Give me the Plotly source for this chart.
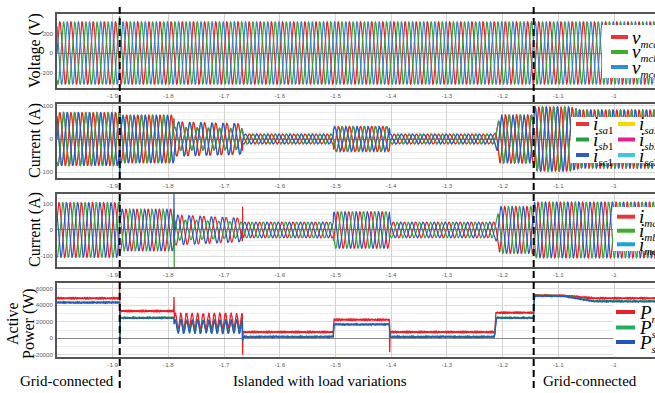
import numpy as np
import plotly.graph_objects as go

# ---------------- data ----------------
T_START, T_END = -2.0, -0.92
FREQ = 50.0
x_tick_vals = [-1.9, -1.8, -1.7, -1.6, -1.5, -1.4, -1.3, -1.2, -1.1, -1.0]
x_tick_text = ["-1.9", "-1.8", "-1.7", "-1.6", "-1.5", "-1.4", "-1.3", "-1.2", "-1.1", "-1"]
event_times = [-1.8874, -1.1442]  # grid disconnection / reconnection

# PCC voltage amplitude envelope (V)
v_knots_t = [-2.0, -0.92]
v_knots_amp = [320, 320]

# inverter currents amplitude envelope (A)
is_knots_t = [-2.0, -1.8874, -1.8870, -1.790, -1.7895, -1.667, -1.6665, -1.504, -1.5035,
              -1.403, -1.4025, -1.214, -1.205, -1.1442, -1.1438, -1.08, -1.06, -0.92]
is_knots_amp = [80, 80, 72, 72, 52, 46, 15, 15, 38, 38, 15, 15, 73, 73, 97, 97, 88, 88]

# load currents amplitude envelope (A)
im_knots_t = [-2.0, -1.8874, -1.8870, -1.790, -1.7895, -1.667, -1.6665, -1.504, -1.5035,
              -1.403, -1.4025, -1.214, -1.205, -1.1442, -1.1438, -0.92]
im_knots_amp = [105, 105, 80, 80, 58, 45, 30, 30, 70, 70, 30, 30, 90, 90, 107, 107]

# phase-b scale (unbalanced load interval)
b_scale_t = [-2.0, -1.790, -1.7895, -1.667, -1.6665, -0.92]
b_scale = [1.0, 1.0, 0.68, 0.68, 1.0, 1.0]

# active power levels (W)
p_knots_t = [-2.0, -1.8874, -1.8870, -1.790, -1.7895, -1.667, -1.6665, -1.504, -1.503,
             -1.403, -1.4025, -1.214, -1.212, -1.1442, -1.1438, -1.09, -1.035, -0.92]
pm_level = [48500, 48500, 33000, 33000, 21000, 21000, 7500, 7500, 22500,
            22500, 7500, 7500, 31000, 31000, 52000, 51500, 48500, 48500]
ps1_level = [43800, 43800, 25200, 25200, 14600, 14600, 2200, 2200, 17200,
             17200, 2200, 2200, 25200, 25200, 52000, 51500, 45200, 45200]
ps2_level = [43000, 43000, 24500, 24500, 14000, 14000, 1500, 1500, 16500,
             16500, 1500, 1500, 24500, 24500, 51500, 51000, 44500, 44500]
# 100 Hz power ripple amplitude (W)
rip_t = [-2.0, -1.790, -1.7895, -1.667, -1.6665, -0.92]
pm_ripple = [0, 0, 9000, 9000, 0, 0]
ps_ripple = [0, 0, 8000, 8000, 0, 0]
pm_noise, ps_noise = 1800, 900

# transient spikes (time, value)
spk_v = {"b": [(-1.8874, 380)]}
spk_is = {"c": [(-1.8874, -125)], "b": [(-1.8870, 92)]}
spk_im = {"c": [(-1.8874, 140), (-1.7900, 146)], "b": [(-1.7896, -145)], "a": [(-1.6668, 90)]}
spk_pm = [(-1.8874, 66000), (-1.8868, 5000), (-1.7900, 50000), (-1.6668, -20000), (-1.4028, -17000)]
spk_ps = [(-1.8870, -6000), (-1.6668, -3000)]

# ---------------- build series ----------------
t = np.round(np.arange(T_START, T_END, 0.0004), 6)
PH = {"a": 0.0, "b": -2 * np.pi / 3, "c": 2 * np.pi / 3}


def apply_spikes(y, spikes):
    y = y.copy()
    for ts, val in spikes:
        y[int(np.argmin(np.abs(t - ts)))] = val
    return y


def wave(kt, ka, ph, spikes=(), phase_key=None):
    amp = np.interp(t, kt, ka)
    if phase_key == "b":
        amp = amp * np.interp(t, b_scale_t, b_scale)
    return apply_spikes(amp * np.sin(2 * np.pi * FREQ * t + ph), spikes)


def power(level, rip, noise, spikes):
    base = np.interp(t, p_knots_t, level)
    r = np.interp(t, rip_t, rip) * np.sin(2 * np.pi * 100 * t)
    n = noise * (0.6 * np.sin(2 * np.pi * 730 * t) + 0.4 * np.sin(2 * np.pi * 1270 * t + 1.0))
    return apply_spikes(base + r + n, spikes)


RED, GREEN, BLUE = "#e3242b", "#36a33a", "#3056c4"
V_BLUE = "#3b80cf"

fig = go.Figure()
W = 1.2
for k, col in zip("abc", [RED, GREEN, V_BLUE]):
    fig.add_trace(go.Scatter(x=t, y=wave(v_knots_t, v_knots_amp, PH[k], spk_v.get(k, [])),
                             mode="lines", line=dict(color=col, width=W),
                             name="v_mc" + k, xaxis="x", yaxis="y", showlegend=False))
# second inverter currents (overlapped by first inverter)
for k, col in zip("abc", ["#f2d200", "#e0208c", "#3cc8d8"]):
    fig.add_trace(go.Scatter(x=t, y=wave(is_knots_t, is_knots_amp, PH[k], spk_is.get(k, []), k),
                             mode="lines", line=dict(color=col, width=W),
                             name="i_s" + k + "2", xaxis="x2", yaxis="y2", showlegend=False))
for k, col in zip("abc", [RED, GREEN, BLUE]):
    fig.add_trace(go.Scatter(x=t, y=wave(is_knots_t, is_knots_amp, PH[k], spk_is.get(k, []), k),
                             mode="lines", line=dict(color=col, width=W),
                             name="i_s" + k + "1", xaxis="x2", yaxis="y2", showlegend=False))
for k, col in zip("abc", [RED, GREEN, BLUE]):
    fig.add_trace(go.Scatter(x=t, y=wave(im_knots_t, im_knots_amp, PH[k] + 0.4, spk_im.get(k, []), k),
                             mode="lines", line=dict(color=col, width=W),
                             name="i_m" + k, xaxis="x3", yaxis="y3", showlegend=False))
fig.add_trace(go.Scatter(x=t, y=power(pm_level, pm_ripple, pm_noise, spk_pm), mode="lines",
                         line=dict(color="#e8202a", width=1.3), name="P_m", xaxis="x4", yaxis="y4",
                         showlegend=False))
fig.add_trace(go.Scatter(x=t, y=power(ps1_level, ps_ripple, ps_noise, spk_ps), mode="lines",
                         line=dict(color="#22a050", width=1.3), name="P_s1", xaxis="x4", yaxis="y4",
                         showlegend=False))
fig.add_trace(go.Scatter(x=t, y=power(ps2_level, ps_ripple, ps_noise, spk_ps), mode="lines",
                         line=dict(color="#2a58b8", width=1.3), name="P_s2", xaxis="x4", yaxis="y4",
                         showlegend=False))

# ---------------- layout ----------------
FW, FH = 655, 393
def px(xp): return xp / FW
def py(yp): return 1 - yp / FH

panels = [  # (top px, bottom px, y range, tickvals, ticktext, minor dtick)
    (14, 88, [-359, 400], [-200, 0, 200], ["-200", "0", "200"], 100),
    (104, 178, [-118, 106], [-100, 0, 100], ["-100", "0", "100"], 20),
    (194, 267, [-142, 138], [-100, 0, 100], ["-100", "0", "100"], 20),
    (283, 357, [-22700, 67000], [-20000, 0, 20000, 40000, 60000],
     ["-20000", "0", "20000", "40000", "60000"], 10000),
]
TICKFONT = dict(family="Liberation Sans", size=6.2, color="#606060")
lay = dict(width=FW, height=FH, margin=dict(l=0, r=0, t=0, b=0),
           paper_bgcolor="white", plot_bgcolor="white", showlegend=False)
for i, (top, bot, yr, tv, tt, mdt) in enumerate(panels, start=1):
    s = "" if i == 1 else str(i)
    lay["xaxis" + s] = dict(domain=[px(57), 1.0], range=[T_START, -0.9264], anchor="y" + s,
                            tickvals=x_tick_vals, ticktext=x_tick_text, tickfont=TICKFONT,
                            showgrid=True, gridcolor="#d2d2d2", gridwidth=1, zeroline=False,
                            showline=True, linecolor="#555555", linewidth=1.6, mirror=True,
                            ticks="", ticklabelstandoff=1, automargin=False)
    lay["yaxis" + s] = dict(domain=[py(bot), py(top)], range=yr, anchor="x" + s,
                            tickvals=tv, ticktext=tt, tickfont=TICKFONT,
                            showgrid=True, gridcolor="#dcdcdc", gridwidth=1,
                            minor=dict(dtick=mdt, showgrid=True, gridcolor="#ececec", gridwidth=1),
                            zeroline=True, zerolinecolor="#8a8a8a", zerolinewidth=1,
                            showline=True, linecolor="#555555", linewidth=1.6,
                            ticks="", ticklabelstandoff=1, automargin=False)
fig.update_layout(**lay)

shapes, annos = [], []
for te in event_times:
    shapes.append(dict(type="line", xref="x", yref="paper", x0=te, x1=te, y0=py(388), y1=py(4),
                       line=dict(color="black", width=2, dash="7px,4px"), layer="above"))

SERIF = "Liberation Serif"
def leg_box(x0, y0, x1, y1):
    shapes.append(dict(type="rect", xref="paper", yref="paper", x0=px(x0), x1=px(x1),
                       y0=py(y1), y1=py(y0), fillcolor="white", line=dict(width=0), layer="above"))

def lbl(main, sub_it, sub_up=""):
    s = "<i>%s</i>" % sub_it + sub_up
    return "<i>%s</i><sub><span style='font-size:11px'>%s</span></sub>" % (main, s)

def leg_item(x0, x1, yrow, color, text):
    shapes.append(dict(type="line", xref="paper", yref="paper", x0=px(x0), x1=px(x1),
                       y0=py(yrow), y1=py(yrow), line=dict(color=color, width=4), layer="above"))
    annos.append(dict(xref="paper", yref="paper", x=px(x1 + 2), y=py(yrow), xanchor="left",
                      yanchor="middle", yshift=-1, showarrow=False, text=text,
                      font=dict(family=SERIF, size=19, color="black")))

leg_box(602, 25, 660, 78)
for yr_, c, tx in zip([37, 52, 67], ["#e8353a", "#3cad2c", "#2b8fd8"],
                      [lbl("v", "mca"), lbl("v", "mcb"), lbl("v", "mcc")]):
    leg_item(611, 628, yr_, c, tx)

leg_box(571, 117, 660, 163)
for yr_, c1, t1, c2, t2 in zip([124, 139.5, 155],
                               ["#e8353a", "#20a040", "#2a5cc8"],
                               [lbl("i", "sa", "1"), lbl("i", "sb", "1"), lbl("i", "sc", "1")],
                               ["#f5d800", "#e0208c", "#40c8d8"],
                               [lbl("i", "sa", "2"), lbl("i", "sb", "2"), lbl("i", "sc", "2")]):
    leg_item(576, 589, yr_, c1, t1)
    leg_item(618, 635, yr_, c2, t2)

leg_box(613, 207, 660, 251)
for yr_, c, tx in zip([216.7, 230.7, 244.3], ["#e8353a", "#3cad2c", "#20a0e0"],
                      [lbl("i", "ma"), lbl("i", "mb"), lbl("i", "mc")]):
    leg_item(617, 635, yr_, c, tx)

leg_box(613, 303, 660, 356)
for yr_, c, tx in zip([312, 327.5, 342], ["#e8202a", "#20b060", "#2255c0"],
                      [lbl("P", "m"), lbl("P", "s", "1"), lbl("P", "s", "2")]):
    leg_item(616, 635, yr_, c, tx)

# axis titles
for txt, yc in [("Voltage (V)", 51), ("Current (A)", 141), ("Current (A)", 230)]:
    annos.append(dict(xref="paper", yref="paper", x=px(35), y=py(yc), xanchor="center",
                      yanchor="middle", textangle=-90, showarrow=False, text=txt,
                      font=dict(family=SERIF, size=16, color="black")))
for txt, xc in [("Active", 12), ("Power (W)", 29)]:
    annos.append(dict(xref="paper", yref="paper", x=px(xc), y=py(324), xanchor="center",
                      yanchor="middle", textangle=-90, showarrow=False, text=txt,
                      font=dict(family=SERIF, size=16, color="black")))

# bottom labels
for txt, xc in [("Grid-connected", 67), ("Islanded with load variations", 320), ("Grid-connected", 590)]:
    annos.append(dict(xref="paper", yref="paper", x=px(xc), y=py(381), xanchor="center",
                      yanchor="middle", showarrow=False, text=txt,
                      font=dict(family=SERIF, size=15, color="black")))

fig.update_layout(shapes=shapes, annotations=annos)
fig.write_html("out.html")
